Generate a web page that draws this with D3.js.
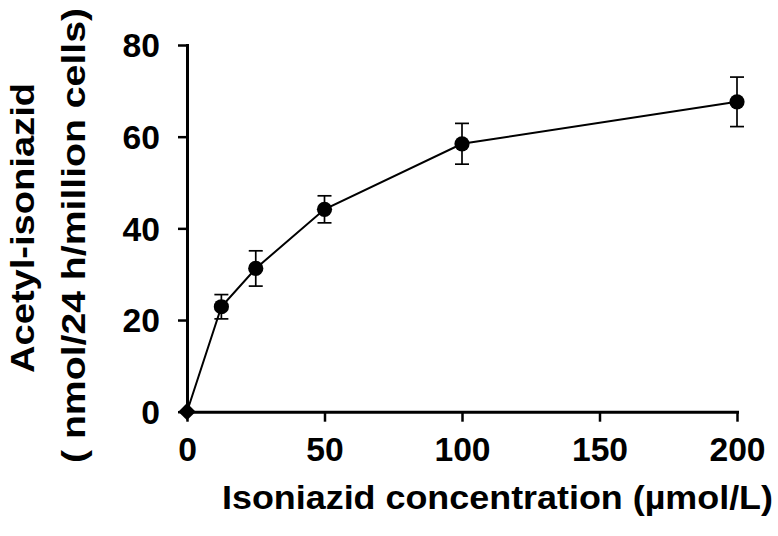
<!DOCTYPE html>
<html><head><meta charset="utf-8">
<script src="https://cdn.jsdelivr.net/npm/d3@7"></script>
<style>body{margin:0;background:#fff}svg{display:block}text{font-family:"Liberation Sans",Arial,sans-serif;font-weight:bold;fill:#000}</style>
</head><body>
<svg id="c" width="778" height="536"></svg>
<script>
const concentrations = [0, 12.5, 25, 50, 100, 200];
const acetylIsoniazid = [0, 22.9, 31.25, 44.15, 58.45, 67.6];
const errors = [0, 2.65, 3.85, 2.95, 4.45, 5.4];
const xTicks = [0, 50, 100, 150, 200];
const yTicks = [0, 20, 40, 60, 80];
const xTitle = "Isoniazid  concentration (\u00b5mol/L)";
const yTitle1 = "Acetyl-isoniazid";
const yTitle2 = "( nmol/24 h/million cells)";

const svg = d3.select("#c");
const x = d3.scaleLinear().domain([0, 200]).range([187, 737]);
const y = d3.scaleLinear().domain([0, 80]).range([411.7, 45]);

function stretch(sel, f) {
  sel.each(function(){ const w = this.getComputedTextLength(); d3.select(this).attr("textLength", w*f).attr("lengthAdjust","spacingAndGlyphs"); });
}

const gx = svg.append("g").attr("transform", `translate(0,${y(0)})`)
  .call(d3.axisBottom(x).tickValues(xTicks).tickSize(10).tickPadding(16).tickSizeOuter(0));
gx.select(".domain").attr("stroke-width", 3);
gx.selectAll(".tick line").attr("stroke-width", 2.5);
gx.selectAll(".tick text").attr("font-size", 33).attr("font-family", null).attr("dy", "0.71em");
stretch(gx.selectAll(".tick text"), 1.02);

const gy = svg.append("g").attr("transform", `translate(${x(0)},0)`)
  .call(d3.axisLeft(y).tickValues(yTicks).tickSize(9).tickPadding(18).tickSizeOuter(0));
gy.select(".domain").attr("stroke-width", 3);
gy.selectAll(".tick line").attr("stroke-width", 2.5);
gy.selectAll(".tick text").attr("font-size", 33).attr("font-family", null).attr("dy", "0.36em");
stretch(gy.selectAll(".tick text"), 1.02);
svg.selectAll(".domain").attr("stroke-linecap", "square");

const data = concentrations.map((c, i) => ({c, v: acetylIsoniazid[i], e: errors[i]}));

svg.append("path").datum(data)
  .attr("fill", "none").attr("stroke", "#000").attr("stroke-width", 2)
  .attr("d", d3.line().x(d => x(d.c)).y(d => y(d.v)));

const eb = svg.append("g").attr("stroke", "#000").attr("stroke-width", 1.7);
data.filter(d => d.e > 0).forEach(d => {
  eb.append("line").attr("x1", x(d.c)).attr("x2", x(d.c)).attr("y1", y(d.v + d.e)).attr("y2", y(d.v - d.e));
  eb.append("line").attr("x1", x(d.c) - 7).attr("x2", x(d.c) + 7).attr("y1", y(d.v + d.e)).attr("y2", y(d.v + d.e));
  eb.append("line").attr("x1", x(d.c) - 7).attr("x2", x(d.c) + 7).attr("y1", y(d.v - d.e)).attr("y2", y(d.v - d.e));
});

svg.append("g").selectAll("path.m").data(data).join("path")
  .attr("transform", d => `translate(${x(d.c)},${y(d.v)})` + (d.c === 0 ? " rotate(45)" : ""))
  .attr("d", d => d.c === 0 ? d3.symbol(d3.symbolSquare, 150)() : d3.symbol(d3.symbolCircle, Math.PI*7.6*7.6)())
  .attr("fill", "#000");

const xt = svg.append("text").attr("x", 497.5).attr("y", 509).attr("text-anchor", "middle").attr("font-size", 34).text(xTitle);
xt.attr("textLength", 551).attr("lengthAdjust", "spacingAndGlyphs");

const yt1 = svg.append("text").attr("transform", "translate(34,228) rotate(-90)").attr("text-anchor", "middle").attr("font-size", 34).text(yTitle1);
yt1.attr("textLength", 290).attr("lengthAdjust", "spacingAndGlyphs");
const yt2 = svg.append("text").attr("transform", "translate(85,235.5) rotate(-90)").attr("text-anchor", "middle").attr("font-size", 34).text(yTitle2);
yt2.attr("textLength", 455).attr("lengthAdjust", "spacingAndGlyphs");
</script>
</body></html>
